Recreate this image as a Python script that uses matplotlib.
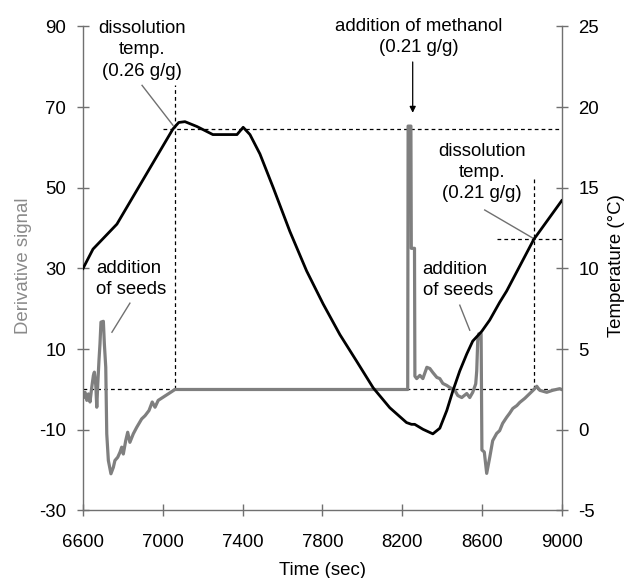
import matplotlib
matplotlib.use('Agg')
import matplotlib.pyplot as plt

plt.rcParams['font.family'] = ['Liberation Sans', 'DejaVu Sans']
plt.rcParams['font.size'] = 13.4
plt.rcParams['axes.unicode_minus'] = False

# temperature (right axis, degC)
temp_time = [6600, 6650, 6770, 7051, 7080, 7111, 7171, 7251, 7372, 7403, 7437,
             7487, 7554, 7637, 7721, 7804, 7888, 7971, 8055, 8138, 8222, 8247,
             8263, 8305, 8354, 8389, 8424, 8454, 8489, 8524, 8554, 8599, 8639,
             8689, 8724, 8860, 9000]
temp_value = [10.0, 11.2, 12.75, 18.65, 19.05, 19.1, 18.8, 18.3, 18.3, 18.75, 18.3,
              17.1, 15.0, 12.3, 9.85, 7.8, 5.9, 4.27, 2.6, 1.37, 0.45, 0.34,
              0.34, 0.03, -0.25, 0.1, 1.2, 2.4, 3.65, 4.7, 5.5, 6.1, 6.8,
              7.9, 8.6, 11.8, 14.2]

# derivative signal (left axis)
deriv_time = [6602, 6610, 6619, 6627, 6635, 6644, 6652, 6657, 6664, 6669, 6674,
              6680, 6685, 6690, 6702, 6707, 6714, 6719, 6727, 6740, 6752, 6760,
              6774, 6785, 6794, 6802, 6814, 6824, 6835, 6852, 6869, 6894, 6911,
              6931, 6947, 6961, 6977, 7002, 7027, 7061,
              8228, 8230, 8244, 8246, 8262, 8264, 8273, 8289, 8304, 8324, 8339,
              8354, 8374, 8389, 8404, 8424, 8439, 8464, 8479, 8499, 8524, 8539,
              8554, 8569, 8574, 8579, 8584, 8596, 8600, 8612, 8624, 8639, 8654,
              8674, 8689, 8704, 8724, 8739, 8755, 8775, 8790, 8815, 8840, 8865,
              8875, 8890, 8925, 8955, 8990, 9000]
deriv_value = [-1.9, -0.7, -2.7, -1.1, -3.1, 0.6, 3.5, 4.3, 1.0, -4.4, 1.4,
               7.2, 11.3, 16.7, 16.9, 11.3, 5.5, -11.0, -17.6, -20.9, -19.3, -17.6,
               -16.8, -15.6, -14.3, -16.0, -12.7, -10.6, -13.1, -11.0, -9.4, -7.3, -6.5,
               -5.2, -3.1, -4.4, -2.7, -1.9, -1.1, 0.0,
               0.0, 65.3, 65.3, 35.0, 35.0, 3.3, 2.7, 3.5, 2.7, 5.5, 5.2,
               4.2, 3.0, 2.7, 1.5, 1.0, 0.5, -0.2, -1.5, -2.0, -1.0, -2.0,
               -0.7, 1.4, 4.6, 12.0, 13.8, 13.8, -15.0, -15.5, -20.8, -16.9, -12.7,
               -10.9, -10.2, -8.4, -6.9, -5.9, -4.7, -4.0, -3.2, -2.2, -1.0, 0.2,
               0.8, -0.2, -0.7, -0.2, 0.2, 0.0]

x_ticks = [6600, 7000, 7400, 7800, 8200, 8600, 9000]
left_ticks = [-30, -10, 10, 30, 50, 70, 90]
right_ticks = [-5, 0, 5, 10, 15, 20, 25]

dissolution_1 = (7061, 64.6)   # time, derivative-axis level
dissolution_2 = (8860, 37.2)
methanol_time = 8253

spine_col = '#707070'
gray_line = '#7f7f7f'

fig = plt.figure(figsize=(6.28, 5.78), dpi=100)
ax = fig.add_axes([0.1322, 0.1168, 0.7622, 0.8374])
ax2 = ax.twinx()

ax.set_xlim(6600, 9000)
ax.set_ylim(-30, 90)
ax2.set_ylim(-5, 25)

# dashed guide lines
dash = dict(color='black', lw=0.9, ls=(0, (3, 2.5)), zorder=1)
ax.plot([6600, 9000], [0, 0], **dash)
ax.plot([dissolution_1[0], dissolution_1[0]], [0, 75.4], **dash)
ax.plot([7001, 9000], [dissolution_1[1], dissolution_1[1]], **dash)
ax.plot([dissolution_2[0], dissolution_2[0]], [0, 52.9], **dash)
ax.plot([8674, 9000], [dissolution_2[1], dissolution_2[1]], **dash)

ax.plot(deriv_time, deriv_value, color=gray_line, lw=2.3, zorder=2)
ax2.plot(temp_time, temp_value, color='black', lw=2.0, zorder=3)

# annotations
ax.text(6896, 84.2, 'dissolution\ntemp.\n(0.26 g/g)', ha='center', va='center',
        linespacing=1.32)
ax.plot([6896, 7051], [75.4, 65.5], color=spine_col, lw=1.0)

ax.text(8599, 53.8, 'dissolution\ntemp.\n(0.21 g/g)', ha='center', va='center',
        linespacing=1.32)
ax.plot([8614, 8860], [44.5, 37.4], color=spine_col, lw=1.0)

ax.text(8283, 87.3, 'addition of methanol\n(0.21 g/g)', ha='center', va='center',
        linespacing=1.32)
ax.annotate('', xy=(methanol_time, 68.6), xytext=(methanol_time, 81.2),
            arrowprops=dict(arrowstyle='-|>', color='black', lw=0.9,
                            mutation_scale=9, shrinkA=0, shrinkB=0))

ax.text(6665, 27.3, 'addition\nof seeds', ha='left', va='center', linespacing=1.32)
ax.plot([6835, 6745], [21.4, 14.2], color=spine_col, lw=1.0)

ax.text(8303, 27.2, 'addition\nof seeds', ha='left', va='center', linespacing=1.32)
ax.plot([8489, 8539], [20.9, 14.7], color=spine_col, lw=1.0)

# axes styling
ax.set_xticks(x_ticks)
ax.set_yticks(left_ticks)
ax2.set_yticks(right_ticks)
for a in (ax, ax2):
    a.spines['top'].set_visible(False)
    for s in a.spines.values():
        s.set_color(spine_col)
        s.set_linewidth(1.0)
    a.tick_params(direction='inout', length=8, width=1.0, color=spine_col,
                  labelcolor='black', pad=8)
ax.tick_params(axis='x', pad=13)
ax.spines['right'].set_visible(False)
ax2.spines['left'].set_visible(False)
ax2.spines['bottom'].set_visible(False)

ax.set_xlabel('Time (sec)', labelpad=8)
ax.set_ylabel('Derivative signal', color='#8a8a8a')
ax.yaxis.set_label_coords(-0.106, 0.505)
ax2.set_ylabel('Temperature (°C)')
ax2.yaxis.set_label_coords(1.097, 0.505)

fig.savefig('out.png', dpi=100)
